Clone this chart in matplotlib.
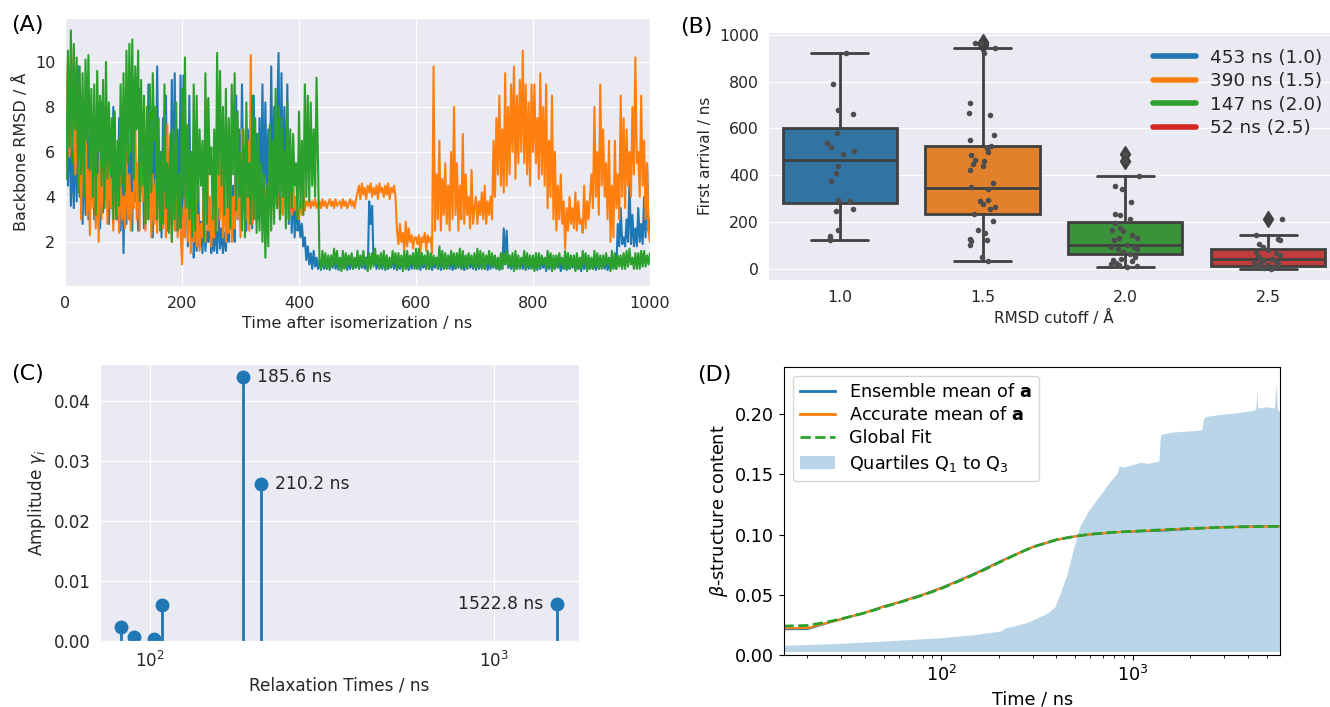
import numpy as np
import matplotlib.pyplot as plt
import seaborn as sns
from matplotlib.lines import Line2D
from matplotlib.patches import Patch
from matplotlib.ticker import FormatStrFormatter

# (A) backbone RMSD of three runs, sampled every 2.5 ns from 0 to 1000 ns (one row = 100 ns)
rmsd_blue = [
    5.0, 8.5, 4.5, 7.9, 3.6, 6.2, 3.5, 7.0, 3.8, 9.8, 4.0, 8.5, 2.8, 6.5, 3.2, 7.5, 3.0, 8.0, 4.5, 6.0,
    3.0, 7.2, 3.4, 6.5, 2.6, 8.2, 3.3, 7.0, 4.0, 6.8, 2.8, 5.5, 3.5, 8.0, 4.2, 6.0, 3.0, 7.5, 2.5, 6.5,
    1.5, 6.0, 2.8, 7.5, 3.0, 6.5, 2.5, 9.2, 3.8, 5.5, 2.5, 8.8, 4.2, 7.0, 2.6, 6.0, 3.1, 9.0, 3.5, 7.5,
    2.2, 6.8, 3.0, 9.8, 4.0, 6.0, 2.2, 7.5, 3.0, 8.5, 2.5, 6.0, 2.8, 9.2, 3.5, 9.5, 2.5, 7.0, 3.0, 9.4,
    3.0, 9.4, 2.2, 5.5, 1.8, 8.5, 2.5, 6.0, 1.3, 3.0, 1.6, 4.5, 1.8, 2.9, 1.5, 3.5, 1.6, 2.5, 2.0, 3.2,
    1.5, 2.2, 1.6, 2.8, 1.5, 3.5, 1.7, 2.6, 1.5, 2.4, 1.6, 3.2, 2.0, 6.5, 2.5, 4.5, 2.0, 8.5, 3.0, 7.0,
    3.2, 9.0, 4.0, 6.2, 2.5, 7.0, 3.8, 5.5, 2.6, 8.5, 4.5, 6.8, 3.0, 7.5, 4.0, 9.0, 3.5, 8.2, 4.0, 7.0,
    3.6, 9.8, 4.2, 8.0, 4.0, 7.2, 10.4, 3.0, 9.5, 4.2, 8.0, 3.5, 9.0, 2.8, 5.5, 2.4, 4.8, 2.2, 4.0, 2.5,
    3.0, 2.2, 2.8, 1.8, 2.2, 1.2, 1.8, 1.0, 1.5, 0.8, 1.6, 0.9, 1.3, 0.8, 1.2, 0.75, 1.4, 0.8, 1.1, 0.8,
    1.3, 0.75, 1.2, 0.85, 1.3, 0.8, 1.1, 0.75, 1.2, 0.8, 1.3, 0.85, 1.1, 0.75, 1.2, 0.8, 1.3, 0.8, 1.1, 0.85,
    1.3, 0.8, 1.2, 0.85, 1.1, 0.8, 1.3, 0.75, 3.8, 2.8, 3.6, 1.0, 1.3, 0.8, 1.2, 0.85, 1.1, 0.8, 1.3, 0.75,
    1.2, 0.8, 1.1, 0.85, 1.3, 0.8, 1.2, 0.75, 1.1, 0.8, 1.2, 0.85, 1.3, 0.8, 1.1, 0.75, 1.2, 0.8, 1.3, 0.85,
    1.1, 0.8, 1.3, 0.75, 1.2, 0.85, 1.1, 0.8, 1.3, 0.8, 1.2, 0.75, 1.1, 0.85, 1.3, 0.8, 1.2, 0.75, 1.4, 0.8,
    1.1, 0.85, 1.2, 0.8, 1.3, 0.75, 1.1, 0.8, 1.2, 0.85, 1.3, 0.8, 1.1, 0.75, 1.2, 0.8, 1.4, 0.85, 1.1, 0.8,
    1.2, 0.75, 1.3, 0.8, 1.1, 0.85, 1.2, 0.8, 1.3, 0.75, 1.1, 0.8, 1.2, 0.85, 1.3, 0.8, 1.1, 0.75, 1.2, 0.8,
    2.6, 1.0, 2.5, 0.85, 1.2, 0.8, 1.3, 0.75, 1.1, 0.8, 1.2, 0.85, 1.1, 0.8, 1.3, 0.75, 1.2, 0.8, 1.1, 0.85,
    1.2, 0.8, 1.1, 0.75, 1.3, 0.8, 1.2, 0.85, 1.1, 0.7, 1.2, 0.8, 1.3, 0.75, 1.1, 0.8, 1.2, 0.85, 1.1, 0.7,
    1.2, 0.8, 1.3, 0.75, 1.1, 0.8, 1.2, 0.85, 1.1, 0.75, 1.2, 0.8, 1.1, 0.7, 1.3, 0.8, 1.2, 0.75, 1.1, 0.8,
    1.2, 0.8, 1.1, 0.75, 1.3, 0.8, 1.2, 0.85, 1.1, 0.8, 1.2, 0.75, 1.1, 0.8, 1.3, 0.85, 1.2, 0.8, 2.8, 1.8,
    3.5, 1.9, 2.2, 1.8, 3.0, 2.0, 4.8, 1.9, 3.2, 1.8, 2.6, 1.8, 3.5, 2.0, 2.8, 1.9, 4.0, 2.2, 5.4, 2.5,
    3.0]
rmsd_orange = [
    10.3, 6.5, 10.0, 5.8, 9.8, 7.0, 10.6, 5.0, 8.0, 4.2, 9.0, 3.0, 7.5, 4.5, 8.2, 3.2, 5.2, 2.3, 6.0, 3.5,
    5.5, 2.6, 5.0, 2.0, 7.0, 3.0, 6.5, 3.8, 5.5, 2.8, 6.2, 3.5, 4.8, 2.5, 5.8, 3.2, 4.5, 2.4, 5.0, 3.0,
    4.0, 2.6, 6.2, 3.0, 5.0, 2.5, 4.2, 3.5, 7.5, 3.0, 5.5, 2.5, 8.0, 3.8, 6.0, 2.5, 4.5, 3.0, 7.0, 2.2,
    5.0, 2.8, 4.8, 2.4, 6.5, 3.2, 5.2, 2.6, 4.2, 2.2, 7.2, 3.0, 5.5, 2.0, 4.5, 2.5, 6.0, 2.2, 4.0, 2.5,
    1.0, 3.5, 2.2, 6.5, 2.0, 5.0, 1.5, 3.0, 2.0, 4.5, 1.8, 3.2, 1.6, 2.8, 2.2, 5.0, 2.0, 8.3, 2.5, 4.0,
    1.8, 3.2, 2.2, 5.0, 2.5, 6.8, 3.0, 5.5, 2.2, 4.5, 2.0, 3.5, 2.4, 5.2, 2.0, 4.0, 2.6, 6.0, 3.0, 5.0,
    2.2, 7.0, 3.5, 6.0, 3.0, 6.5, 2.5, 10.3, 2.8, 5.5, 3.0, 4.8, 3.5, 4.0, 3.8, 4.5, 4.0, 4.3, 3.8, 4.6,
    4.2, 3.9, 4.5, 3.6, 4.0, 3.5, 5.0, 3.0, 4.0, 3.2, 6.0, 3.5, 4.2, 3.0, 4.8, 3.2, 4.5, 3.4, 4.0, 3.2,
    3.0, 3.8, 3.2, 4.5, 3.4, 3.8, 3.6, 3.9, 3.5, 3.8, 3.6, 3.9, 3.5, 3.7, 3.8, 3.5, 3.9, 3.6, 3.8, 3.5,
    3.7, 3.9, 3.6, 3.8, 3.5, 3.9, 3.6, 3.7, 3.8, 3.5, 3.9, 3.6, 3.8, 3.5, 3.7, 3.9, 3.6, 3.8, 3.5, 3.9,
    4.2, 4.5, 3.9, 4.6, 4.1, 4.4, 3.9, 4.5, 4.2, 4.6, 4.0, 4.4, 4.1, 4.5, 3.9, 4.6, 4.2, 4.4, 4.0, 4.5,
    4.1, 4.6, 3.9, 4.4, 4.2, 4.5, 4.0, 2.5, 1.9, 2.8, 2.0, 2.4, 1.6, 2.9, 1.8, 2.6, 2.0, 2.3, 1.7, 2.2,
    2.2, 1.9, 2.3, 1.5, 2.2, 2.0, 2.4, 1.6, 2.3, 2.0, 2.2, 1.5, 9.8, 2.5, 5.0, 3.0, 6.5, 2.5, 4.8, 3.2,
    5.5, 2.8, 4.5, 2.5, 6.0, 3.0, 8.0, 3.2, 5.5, 2.5, 4.5, 3.0, 6.8, 2.8, 5.0, 3.2, 4.0, 2.6, 5.2, 2.8,
    3.5, 4.0, 2.8, 3.8, 3.2, 4.2, 3.0, 4.5, 2.8, 3.8, 3.2, 4.0, 3.0, 6.5, 4.0, 7.5, 5.0, 8.5, 4.5, 7.0,
    4.2, 9.5, 4.5, 8.0, 5.0, 9.0, 6.0, 9.8, 4.8, 8.5, 5.5, 9.2, 6.0, 10.5, 5.5, 9.0, 5.0, 8.2, 4.5, 9.0,
    6.0, 9.0, 5.5, 7.5, 4.8, 9.5, 5.0, 8.0, 4.5, 9.0, 3.5, 6.5, 4.0, 8.5, 3.0, 6.0, 2.5, 4.5, 3.0, 5.0,
    2.8, 3.8, 1.7, 3.5, 2.5, 4.0, 2.8, 3.5, 2.6, 4.2, 2.5, 3.8, 2.8, 3.0, 2.4, 4.5, 2.6, 3.8, 3.0, 4.0,
    5.0, 3.5, 8.0, 4.0, 6.0, 3.2, 9.0, 4.5, 7.0, 4.0, 5.5, 3.0, 6.5, 2.0, 4.5, 2.2, 6.5, 3.5, 5.0, 3.0,
    8.5, 4.0, 7.5, 3.5, 7.0, 4.5, 6.0, 4.0, 8.0, 5.0, 10.2, 5.5, 6.0, 4.0, 8.5, 4.5, 6.5, 3.0, 5.5, 2.5,
    2.0]
rmsd_green = [
    8.0, 4.8, 10.5, 6.2, 11.4, 5.5, 10.8, 7.0, 10.2, 4.2, 9.8, 5.0, 9.5, 4.0, 10.1, 6.5, 10.3, 5.2, 8.8, 4.0,
    9.0, 3.2, 9.6, 6.0, 8.5, 4.5, 9.2, 3.5, 10.0, 4.8, 8.2, 5.0, 7.5, 3.0, 7.8, 3.0, 6.5, 3.6, 9.0, 4.5,
    9.5, 4.2, 10.5, 5.5, 10.8, 6.0, 11.0, 4.8, 9.8, 7.0, 10.5, 3.8, 9.2, 4.5, 8.5, 2.8, 8.0, 3.0, 9.0, 4.2,
    9.5, 6.5, 8.0, 3.0, 7.5, 2.5, 6.0, 2.8, 9.0, 3.5, 5.5, 2.4, 6.8, 2.0, 7.0, 3.0, 8.2, 2.5, 5.0, 2.6,
    8.8, 4.0, 10.2, 3.5, 7.2, 3.0, 6.0, 2.2, 9.0, 2.5, 8.5, 3.8, 7.0, 4.5, 6.5, 2.0, 9.5, 2.8, 8.4, 5.0,
    6.2, 3.0, 7.0, 2.4, 10.4, 5.0, 9.6, 4.5, 8.0, 3.2, 8.8, 3.5, 7.5, 2.6, 9.0, 5.0, 9.5, 3.4, 7.8, 4.0,
    6.0, 2.5, 7.0, 2.2, 8.2, 4.0, 5.5, 2.8, 8.5, 3.0, 7.5, 2.4, 6.8, 2.5, 5.5, 2.0, 5.0, 1.3, 4.5, 1.8,
    7.2, 2.5, 6.5, 2.8, 8.8, 3.5, 8.0, 3.0, 7.5, 4.0, 6.0, 2.6, 8.2, 3.0, 7.0, 3.5, 6.8, 4.5, 5.5, 3.0,
    7.8, 3.5, 6.5, 3.2, 9.0, 4.0, 8.5, 3.8, 8.2, 4.5, 7.0, 4.0, 9.3, 5.5, 1.1, 0.8, 1.6, 0.9, 1.5, 0.8,
    1.4, 0.8, 1.4, 0.9, 1.7, 1.0, 1.6, 0.8, 1.3, 0.7, 1.6, 0.8, 1.5, 0.9, 1.4, 1.0, 1.5, 0.8, 1.3, 0.9,
    1.6, 0.8, 1.4, 0.9, 1.6, 1.0, 1.3, 0.7, 1.5, 0.8, 1.5, 0.9, 1.7, 1.0, 1.4, 0.8, 1.5, 0.9, 1.6, 0.8,
    1.4, 0.8, 1.3, 0.9, 1.6, 1.0, 1.5, 0.8, 1.5, 0.9, 1.4, 0.7, 1.6, 0.8, 1.6, 0.9, 1.4, 1.0, 1.5, 0.8,
    1.7, 0.8, 1.7, 0.9, 1.5, 1.0, 1.4, 0.8, 1.6, 0.8, 1.5, 0.9, 1.4, 1.0, 1.3, 0.8, 1.8, 0.9, 1.6, 0.8,
    1.5, 0.8, 1.4, 0.9, 1.6, 1.0, 1.5, 0.8, 1.5, 0.9, 1.7, 0.8, 1.6, 0.9, 1.4, 0.8, 1.5, 1.0, 1.4, 0.9,
    1.5, 0.8, 1.7, 0.9, 1.6, 0.8, 1.5, 0.8, 1.4, 1.0, 1.6, 0.9, 1.5, 0.9, 1.4, 0.8, 1.3, 0.8, 1.5, 0.8,
    1.5, 1.0, 1.6, 0.9, 1.4, 0.9, 1.5, 0.7, 1.6, 0.8, 1.4, 0.8, 1.3, 1.0, 1.6, 0.8, 1.5, 0.9, 1.4, 0.8,
    1.4, 0.7, 1.5, 0.8, 1.5, 0.9, 1.4, 1.0, 1.3, 0.8, 1.6, 0.9, 1.5, 0.7, 1.4, 0.8, 1.4, 0.9, 1.5, 1.0,
    1.3, 0.8, 1.6, 0.8, 1.5, 0.8, 1.4, 0.9, 1.4, 0.7, 1.5, 0.8, 1.3, 0.8, 1.6, 1.0, 1.5, 0.7, 1.4, 0.8,
    1.3, 0.8, 1.6, 0.9, 1.5, 0.8, 1.4, 0.8, 1.4, 0.9, 1.5, 1.0, 1.3, 0.7, 1.6, 0.8, 1.5, 0.8, 1.4, 0.9,
    1.4, 0.8, 1.5, 0.8, 1.6, 0.9, 1.7, 1.0, 1.3, 0.8, 1.5, 0.8, 1.5, 0.8, 1.6, 0.9, 1.6, 0.9, 1.4, 1.0,
    1.5]

# (B) first arrival times for each RMSD cutoff
cutoffs = ['1.0', '1.5', '2.0', '2.5']
mean_arrival = [453, 390, 147, 52]
box_med = [464, 346, 100, 43]
box_q1 = [283, 236, 64, 11]
box_q3 = [603, 526, 200, 83]
box_lo = [121, 33, 7, 0]
box_hi = [924, 946, 396, 146]
box_fliers = [[], [958, 963, 968], [460, 493], [214]]

arrival_10 = [924, 790, 681, 660, 581, 536, 521, 504, 490, 440, 411, 374, 294, 291, 256, 246, 164, 141, 133, 124]
jitter_10 = [0.04, -0.05, -0.01, 0.09, -0.02, -0.09, -0.06, 0.10, 0.02, -0.01, -0.03, -0.06, -0.01, 0.07,
             0.09, -0.03, -0.01, -0.07, -0.07, -0.07]
arrival_15 = [964, 967, 946, 921, 707, 667, 657, 573, 549, 526, 517, 499, 486, 467, 461, 450, 440, 423,
              367, 350, 343, 293, 289, 279, 264, 256, 236, 203, 164, 153, 129, 119, 121, 103, 50, 33]
jitter_15 = [-0.05, -0.01, 0.09, 0.01, -0.09, -0.095, 0.05, 0.08, -0.09, 0.06, 0.03, 0.035, -0.08, -0.05,
             0.01, -0.065, 0.0, -0.09, 0.07, -0.08, 0.035, 0.04, -0.02, 0.0, 0.09, 0.05, -0.06, 0.07,
             -0.03, 0.015, -0.09, -0.08, 0.03, -0.09, -0.005, 0.035]
arrival_20 = [396, 353, 343, 287, 236, 229, 213, 196, 176, 164, 161, 143, 133, 133, 121, 100, 93, 86, 93,
              86, 71, 64, 39, 43, 50, 21, 24, 33, 11, 7, 14, 493, 460]
jitter_20 = [0.095, -0.07, -0.02, 0.04, -0.07, -0.04, 0.03, -0.07, -0.035, -0.09, -0.015, 0.045, -0.045,
             0.085, -0.08, 0.01, -0.1, -0.05, 0.06, 0.08, -0.015, 0.03, -0.085, -0.03, 0.065, -0.1,
             -0.065, 0.045, 0.085, 0.015, -0.045, 0.0, 0.0]
arrival_25 = [214, 146, 129, 124, 107, 93, 71, 79, 67, 57, 53, 43, 36, 29, 26, 21, 14, 7, 10, 4, 1, 14, 43, 33]
jitter_25 = [0.095, -0.087, 0.067, 0.087, -0.064, -0.035, -0.087, 0.0, 0.058, 0.087, -0.072, 0.029, -0.029,
             -0.1, 0.072, -0.058, 0.0, 0.043, -0.087, -0.029, 0.023, 0.072, -0.052, 0.058]

# (C) relaxation time spectrum
relax_times = [82.5, 89.8, 102.4, 108.5, 185.6, 210.2, 1522.8]
amplitudes = [0.0024, 0.0007, 0.0003, 0.0060, 0.0441, 0.0262, 0.0062]
labelled_times = [185.6, 210.2, 1522.8]

# (D) beta-structure content over time
time_ns = [15, 20, 25, 30, 40, 50, 60, 80, 100, 130, 160, 200, 250, 300, 400, 500, 600, 800,
           1000, 1500, 2000, 3000, 4000, 5900]
ens_mean = [0.0215, 0.0216, 0.0262, 0.0298, 0.0351, 0.0403, 0.0437, 0.0501, 0.0557, 0.0634, 0.0698,
            0.0772, 0.0842, 0.0895, 0.0955, 0.0984, 0.1002, 0.1019, 0.1024, 0.1034, 0.1047, 0.1061,
            0.1067, 0.1069]
acc_mean = [0.0222, 0.0224, 0.0264, 0.0297, 0.0352, 0.0402, 0.0438, 0.0499, 0.0555, 0.0630, 0.0693,
            0.0768, 0.0840, 0.0896, 0.0957, 0.0985, 0.1001, 0.1018, 0.1026, 0.1040, 0.1049, 0.1060,
            0.1065, 0.1068]
global_fit = [0.0240, 0.0245, 0.0272, 0.0300, 0.0350, 0.0398, 0.0435, 0.0496, 0.0552, 0.0628, 0.0692,
              0.0767, 0.0840, 0.0896, 0.0957, 0.0986, 0.1002, 0.1019, 0.1027, 0.1041, 0.1050, 0.1060,
              0.1065, 0.1068]
q_time = [15, 30, 50, 100, 150, 205, 215, 238, 280, 320, 360, 392, 420, 456, 490, 530, 590, 648, 700,
          752, 790, 831, 850, 900, 1000, 1100, 1200, 1371, 1390, 1400, 1600, 2000, 2300, 2340, 2400,
          3000, 3500, 4300, 4400, 4450, 4500, 5000, 5500, 5600, 5700, 5900]
q3_upper = [0.0080, 0.0098, 0.0116, 0.0144, 0.0170, 0.0200, 0.0225, 0.0240, 0.0270, 0.0310, 0.0350,
            0.0400, 0.0520, 0.0680, 0.0880, 0.1070, 0.1200, 0.1290, 0.1360, 0.1430, 0.1470, 0.1510,
            0.1570, 0.1560, 0.1580, 0.1600, 0.1590, 0.1610, 0.1780, 0.1830, 0.1850, 0.1860, 0.1870,
            0.1960, 0.1980, 0.2000, 0.2010, 0.2030, 0.2050, 0.2200, 0.2050, 0.2060, 0.2050, 0.2260,
            0.2040, 0.2010]
q1_lower = 0.003

plt.rcParams['font.family'] = 'DejaVu Sans'
fig = plt.figure(figsize=(13.3, 7.07), dpi=100)

with sns.axes_style('darkgrid', rc={'font.family': 'DejaVu Sans'}):
    # ---- A: RMSD traces ----
    axA = fig.add_axes([0.0489, 0.5955, 0.4398, 0.379])
    for vals, col in [(rmsd_blue, 'C0'), (rmsd_orange, 'C1'), (rmsd_green, 'C2')]:
        axA.plot(np.linspace(0, 1000, len(vals)), vals, color=col, lw=1.5)
    axA.set_xlim(0, 1000)
    axA.set_ylim(0.04, 11.95)
    axA.set_xticks(range(0, 1001, 200))
    axA.set_yticks([2, 4, 6, 8, 10])
    axA.tick_params(labelsize=11.5)
    axA.set_xlabel('Time after isomerization / ns', fontsize=11.5)
    axA.set_ylabel('Backbone RMSD / Å', fontsize=11.5)

    # ---- B: boxes + strip points ----
    axB = fig.add_axes([0.5778, 0.604, 0.4293, 0.3508])
    stats = [dict(med=m, q1=a, q3=b, whislo=lo, whishi=hi, fliers=fl)
             for m, a, b, lo, hi, fl in zip(box_med, box_q1, box_q3, box_lo, box_hi, box_fliers)]
    line_kw = dict(color='0.25', lw=2)
    bp = axB.bxp(stats, positions=range(4), widths=0.8, capwidths=0.4, patch_artist=True,
                 boxprops=dict(edgecolor='0.25', lw=2), medianprops=line_kw,
                 whiskerprops=line_kw, capprops=line_kw,
                 flierprops=dict(marker='d', markerfacecolor='0.25', markeredgecolor='0.25',
                                 markersize=8))
    for i, box in enumerate(bp['boxes']):
        box.set_facecolor(sns.desaturate(f'C{i}', 0.75))
    for i, (vals, jit) in enumerate([(arrival_10, jitter_10), (arrival_15, jitter_15),
                                     (arrival_20, jitter_20), (arrival_25, jitter_25)]):
        axB.scatter(i + np.array(jit), vals, s=16, color='0.3', lw=0, zorder=4)
    axB.set_xlim(-0.5, 3.5)
    axB.set_ylim(-48, 1013)
    axB.set_xticks(range(4))
    axB.set_xticklabels(cutoffs)
    axB.set_yticks(range(0, 1001, 200))
    axB.grid(axis='x', visible=False)
    axB.tick_params(labelsize=11.3)
    axB.set_xlabel('RMSD cutoff / Å', fontsize=11)
    axB.set_ylabel('First arrival / ns', fontsize=11)
    handles = [Line2D([], [], color=f'C{i}', lw=4) for i in range(4)]
    labels = [f'{m} ns ({c})' for m, c in zip(mean_arrival, cutoffs)]
    axB.legend(handles, labels, loc='upper right', frameon=False, fontsize=13.3,
               labelspacing=0.3, handlelength=2.3)

    # ---- C: relaxation spectrum ----
    axC = fig.add_axes([0.0752, 0.0934, 0.3602, 0.3918])
    markerline, stemlines, baseline = axC.stem(relax_times, amplitudes, basefmt=' ')
    markerline.set_markersize(9)
    markerline.set_color('C0')
    stemlines.set_linewidth(2)
    stemlines.set_color('C0')
    axC.set_xscale('log')
    axC.set_xlim(71.5, 1762)
    axC.set_ylim(0, 0.0462)
    axC.set_yticks([0, 0.01, 0.02, 0.03, 0.04])
    axC.yaxis.set_major_formatter(FormatStrFormatter('%.2f'))
    for tt, amp in zip(relax_times, amplitudes):
        if tt in labelled_times:
            right = tt > 1000
            axC.annotate(f'{tt} ns', (tt, amp), xytext=(-10 if right else 10, 0),
                         textcoords='offset points', ha='right' if right else 'left',
                         va='center', fontsize=12.3, color='0.15')
    axC.tick_params(labelsize=12)
    axC.set_xlabel('Relaxation Times / ns', fontsize=12.2)
    axC.set_ylabel('Amplitude $\\gamma_i$', fontsize=12.2)

# ---- D: beta content, plain matplotlib style ----
axD = fig.add_axes([0.5895, 0.0735, 0.373, 0.4074])
axD.fill_between(q_time, q1_lower, q3_upper, color='C0', alpha=0.3, lw=0)
axD.plot(time_ns, ens_mean, color='C0', lw=1.5)
axD.plot(time_ns, acc_mean, color='C1', lw=1.5)
axD.plot(time_ns, global_fit, color='C2', ls='--', lw=2)
axD.set_xscale('log')
axD.set_xlim(15.1, 5890)
axD.set_ylim(0, 0.239)
axD.set_yticks([0, 0.05, 0.10, 0.15, 0.20])
axD.yaxis.set_major_formatter(FormatStrFormatter('%.2f'))
axD.tick_params(labelsize=12.7)
axD.set_xlabel('Time / ns', fontsize=12.7)
axD.set_ylabel('$\\beta$-structure content', fontsize=12.7)
d_handles = [Line2D([], [], color='C0', lw=2),
             Line2D([], [], color='C1', lw=2),
             Line2D([], [], color='C2', lw=2, ls='--'),
             Patch(facecolor='C0', alpha=0.3)]
d_labels = ['Ensemble mean of $\\mathbf{a}$', 'Accurate mean of $\\mathbf{a}$', 'Global Fit',
            'Quartiles Q$_1$ to Q$_3$']
axD.legend(d_handles, d_labels, loc='upper left', fontsize=12.7, labelspacing=0.3)

# panel letters
for x, y, s in [(0.008, 0.965, '(A)'), (0.511, 0.962, '(B)'), (0.008, 0.471, '(C)'), (0.524, 0.470, '(D)')]:
    fig.text(x, y, s, fontsize=16, va='center', ha='left')

fig.savefig('out.png', dpi=100)
